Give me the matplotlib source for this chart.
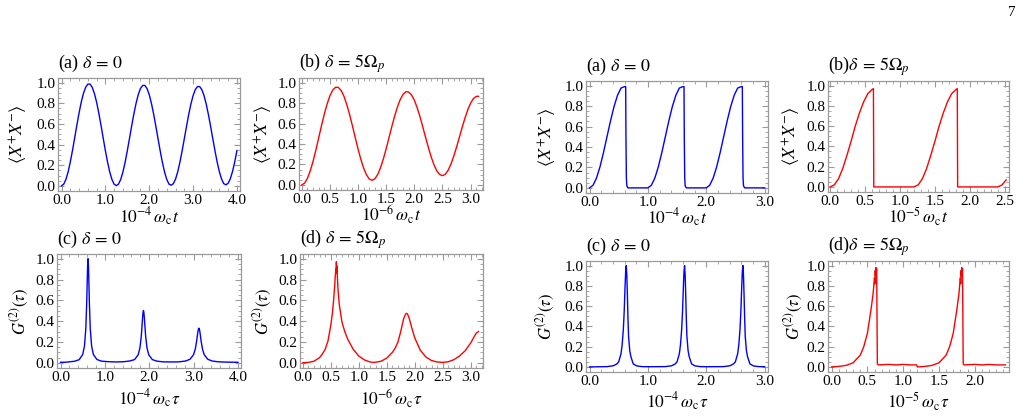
import matplotlib
matplotlib.use('Agg')
import matplotlib.pyplot as plt
from matplotlib.ticker import MultipleLocator, FormatStrFormatter

plt.rcParams['font.family'] = ['Liberation Serif', 'DejaVu Serif']
plt.rcParams['mathtext.fontset'] = 'stix'

# ---------------- data ----------------
# Left group, panel (a): <X+X-> vs 10^-4 w_c t, delta = 0
a_x = [0.00, 0.05, 0.10, 0.15, 0.20, 0.25, 0.30, 0.35, 0.40, 0.45, 0.50, 0.55, 0.60, 0.65, 0.70, 0.75, 0.80, 0.85, 0.90, 0.95,
       1.00, 1.05, 1.10, 1.15, 1.20, 1.25, 1.30, 1.35, 1.40, 1.45, 1.50, 1.55, 1.60, 1.65, 1.70, 1.75, 1.80, 1.85, 1.90, 1.95,
       2.00, 2.05, 2.10, 2.15, 2.20, 2.25, 2.30, 2.35, 2.40, 2.45, 2.50, 2.55, 2.60, 2.65, 2.70, 2.75, 2.80, 2.85, 2.90, 2.95,
       3.00, 3.05, 3.10, 3.15, 3.20, 3.25, 3.30, 3.35, 3.40, 3.45, 3.50, 3.55, 3.60, 3.65, 3.70, 3.75, 3.80, 3.85, 3.90, 3.95, 4.00]
a_y = [0.000, 0.016, 0.061, 0.134, 0.230, 0.342, 0.464, 0.588, 0.706, 0.811, 0.895, 0.955, 0.986, 0.986, 0.955, 0.895, 0.811, 0.706, 0.588, 0.464,
       0.342, 0.230, 0.134, 0.061, 0.016, 0.002, 0.017, 0.062, 0.134, 0.228, 0.339, 0.459, 0.581, 0.697, 0.800, 0.884, 0.943, 0.973, 0.973, 0.943,
       0.884, 0.800, 0.697, 0.581, 0.459, 0.339, 0.228, 0.134, 0.062, 0.017, 0.006, 0.021, 0.065, 0.136, 0.229, 0.338, 0.456, 0.576, 0.690, 0.792,
       0.874, 0.932, 0.962, 0.962, 0.932, 0.874, 0.792, 0.690, 0.576, 0.456, 0.338, 0.229, 0.136, 0.065, 0.021, 0.010, 0.025, 0.069, 0.140, 0.232, 0.342]

# panel (b): <X+X-> vs 10^-6 w_c t, delta = 5 Omega_p
b_x = [0.00, 0.05, 0.10, 0.15, 0.20, 0.25, 0.30, 0.35, 0.40, 0.45, 0.50, 0.55, 0.60, 0.65, 0.70, 0.75, 0.80, 0.85, 0.90, 0.95,
       1.00, 1.05, 1.10, 1.15, 1.20, 1.25, 1.30, 1.35, 1.40, 1.45, 1.50, 1.55, 1.60, 1.65, 1.70, 1.75, 1.80, 1.85, 1.90, 1.95,
       2.00, 2.05, 2.10, 2.15, 2.20, 2.25, 2.30, 2.35, 2.40, 2.45, 2.50, 2.55, 2.60, 2.65, 2.70, 2.75, 2.80, 2.85, 2.90, 2.95,
       3.00, 3.05, 3.10, 3.14]
b_y = [0.000, 0.017, 0.064, 0.137, 0.231, 0.341, 0.460, 0.580, 0.693, 0.792, 0.872, 0.927, 0.955, 0.953, 0.922, 0.865, 0.784, 0.686, 0.576, 0.461,
       0.350, 0.248, 0.162, 0.097, 0.057, 0.045, 0.061, 0.103, 0.170, 0.255, 0.355, 0.463, 0.571, 0.673, 0.763, 0.836, 0.885, 0.911, 0.908, 0.880,
       0.828, 0.755, 0.667, 0.567, 0.464, 0.364, 0.272, 0.195, 0.136, 0.101, 0.090, 0.104, 0.143, 0.202, 0.280, 0.369, 0.466, 0.563, 0.654, 0.735,
       0.799, 0.844, 0.865, 0.866]

# panel (c): G2 vs 10^-4 w_c tau, delta = 0
c_x = [0.00, 0.10, 0.17, 0.32, 0.42, 0.50, 0.54, 0.57, 0.59, 0.60, 0.61, 0.62, 0.63, 0.64, 0.65, 0.67, 0.70, 0.74, 0.82, 0.92,
       1.07, 1.25, 1.42, 1.57, 1.67, 1.75, 1.79, 1.82, 1.84, 1.85, 1.86, 1.87, 1.88, 1.89, 1.90, 1.92, 1.95, 1.99, 2.07, 2.17,
       2.32, 2.50, 2.67, 2.82, 2.92, 3.00, 3.04, 3.07, 3.09, 3.10, 3.11, 3.12, 3.13, 3.14, 3.15, 3.17, 3.20, 3.24, 3.32, 3.42,
       3.57, 3.80, 4.00]
c_y = [0.005, 0.005, 0.008, 0.015, 0.030, 0.080, 0.163, 0.330, 0.578, 0.756, 0.926, 1.000, 0.926, 0.756, 0.578, 0.330, 0.163, 0.080, 0.032, 0.016,
       0.011, 0.008, 0.010, 0.018, 0.031, 0.076, 0.142, 0.252, 0.370, 0.433, 0.483, 0.502, 0.483, 0.433, 0.370, 0.252, 0.142, 0.076, 0.031, 0.016,
       0.009, 0.008, 0.009, 0.017, 0.034, 0.078, 0.134, 0.210, 0.275, 0.304, 0.325, 0.333, 0.325, 0.304, 0.275, 0.210, 0.134, 0.078, 0.034, 0.017,
       0.009, 0.006, 0.005]

# panel (d): G2 vs 10^-6 w_c tau, delta = 5 Omega_p
d_x = [0.00, 0.10, 0.20, 0.30, 0.35, 0.40, 0.45, 0.50, 0.53, 0.55, 0.57, 0.58, 0.59, 0.595, 0.60, 0.605, 0.61, 0.62, 0.63, 0.65,
       0.68, 0.70, 0.75, 0.80, 0.90, 1.00, 1.10, 1.20, 1.25, 1.30, 1.40, 1.50, 1.60, 1.65, 1.70, 1.75, 1.80, 1.83, 1.85, 1.87,
       1.90, 1.95, 2.00, 2.10, 2.20, 2.30, 2.40, 2.50, 2.60, 2.70, 2.80, 2.90, 3.00, 3.05, 3.10, 3.14]
d_y = [0.000, 0.004, 0.015, 0.050, 0.085, 0.130, 0.210, 0.360, 0.480, 0.600, 0.740, 0.830, 0.900, 0.860, 0.970, 0.880, 0.930, 0.800, 0.700, 0.570,
       0.460, 0.390, 0.300, 0.230, 0.130, 0.065, 0.028, 0.008, 0.004, 0.005, 0.015, 0.045, 0.100, 0.140, 0.200, 0.300, 0.420, 0.460, 0.475, 0.470,
       0.430, 0.330, 0.240, 0.120, 0.055, 0.022, 0.008, 0.004, 0.010, 0.030, 0.065, 0.115, 0.190, 0.240, 0.285, 0.300]

# Right group, panel (a): <X+X-> vs 10^-4 w_c t, delta = 0
e_x = [0.00, 0.06, 0.12, 0.18, 0.24, 0.30, 0.36, 0.42, 0.48, 0.54, 0.60, 0.62, 0.625, 0.632, 0.64, 0.66,
       1.00, 1.06, 1.12, 1.18, 1.24, 1.30, 1.36, 1.42, 1.48, 1.54, 1.60, 1.62, 1.625, 1.632, 1.64, 1.66,
       2.00, 2.06, 2.12, 2.18, 2.24, 2.30, 2.36, 2.42, 2.48, 2.54, 2.60, 2.62, 2.625, 2.632, 2.64, 2.66, 3.00]
e_y = [0.000, 0.025, 0.096, 0.206, 0.346, 0.500, 0.655, 0.794, 0.905, 0.976, 0.990, 0.990, 0.500, 0.100, 0.020, 0.000,
       0.000, 0.025, 0.096, 0.206, 0.346, 0.500, 0.655, 0.794, 0.905, 0.976, 0.990, 0.990, 0.500, 0.100, 0.020, 0.000,
       0.000, 0.025, 0.096, 0.206, 0.346, 0.500, 0.655, 0.794, 0.905, 0.976, 0.990, 0.990, 0.500, 0.100, 0.020, 0.000, 0.000]

# Right group, panel (b): <X+X-> vs 10^-5 w_c t, delta = 5 Omega_p
f_x = [0.00, 0.06, 0.12, 0.18, 0.24, 0.30, 0.36, 0.42, 0.48, 0.54, 0.60, 0.62, 0.625, 1.20,
       1.26, 1.32, 1.38, 1.44, 1.50, 1.56, 1.62, 1.68, 1.74, 1.80, 1.82, 1.825, 2.40, 2.46, 2.52]
f_y = [0.000, 0.020, 0.080, 0.180, 0.310, 0.450, 0.600, 0.730, 0.840, 0.920, 0.960, 0.970, 0.000, 0.000,
       0.020, 0.080, 0.180, 0.310, 0.450, 0.600, 0.730, 0.840, 0.920, 0.960, 0.970, 0.000, 0.000, 0.020, 0.070]

# Right group, panel (c): G2 vs 10^-4 w_c tau, delta = 0
g_x = [0.00, 0.30, 0.41, 0.47, 0.50, 0.54, 0.56, 0.58, 0.595, 0.61, 0.62, 0.63, 0.64, 0.65, 0.66, 0.67, 0.69, 0.71, 0.75, 0.81, 0.90,
       1.00, 1.30, 1.41, 1.47, 1.50, 1.54, 1.56, 1.58, 1.595, 1.61, 1.62, 1.63, 1.64, 1.65, 1.66, 1.67, 1.69, 1.71, 1.75, 1.81, 1.90,
       2.00, 2.30, 2.41, 2.47, 2.50, 2.54, 2.56, 2.58, 2.595, 2.61, 2.62, 2.63, 2.64, 2.65, 2.66, 2.67, 2.69, 2.71, 2.75, 2.81, 2.90, 3.00]
g_y = [0.000, 0.003, 0.012, 0.030, 0.050, 0.130, 0.220, 0.370, 0.550, 0.800, 0.940, 1.000, 0.900, 0.700, 0.470, 0.300, 0.160, 0.100, 0.030, 0.010, 0.003,
       0.002, 0.003, 0.012, 0.030, 0.050, 0.130, 0.220, 0.370, 0.550, 0.800, 0.940, 1.000, 0.900, 0.700, 0.470, 0.300, 0.160, 0.100, 0.030, 0.010, 0.003,
       0.002, 0.003, 0.012, 0.030, 0.050, 0.130, 0.220, 0.370, 0.550, 0.800, 0.940, 1.000, 0.900, 0.700, 0.470, 0.300, 0.160, 0.100, 0.030, 0.010, 0.003, 0.002]

# Right group, panel (d): G2 vs 10^-5 w_c tau, delta = 5 Omega_p
h_x = [0.00, 0.10, 0.20, 0.30, 0.40, 0.45, 0.50, 0.55, 0.58, 0.60, 0.605, 0.61, 0.615, 0.62, 0.625, 0.63, 0.635, 0.64, 0.65,
       0.80, 0.90, 1.00, 1.10, 1.19, 1.20, 1.30, 1.40, 1.50, 1.60, 1.65, 1.70, 1.75, 1.78, 1.80, 1.805, 1.81, 1.815, 1.82,
       1.825, 1.83, 1.835, 1.84, 1.85, 2.00, 2.10, 2.20, 2.30, 2.43]
h_y = [0.000, 0.005, 0.015, 0.040, 0.115, 0.200, 0.330, 0.560, 0.720, 0.880, 0.820, 0.950, 0.900, 0.980, 0.930, 0.970, 0.500, 0.030, 0.020,
       0.025, 0.020, 0.025, 0.020, 0.020, 0.000, 0.005, 0.015, 0.040, 0.115, 0.200, 0.330, 0.560, 0.720, 0.880, 0.820, 0.950, 0.900, 0.980,
       0.930, 0.970, 0.500, 0.030, 0.020, 0.025, 0.020, 0.025, 0.020, 0.020]

y_ticks = [0.0, 0.2, 0.4, 0.6, 0.8, 1.0]

# ---------------- layout ----------------
W, H = 1027, 417
fig = plt.figure(figsize=(W / 100, H / 100), dpi=100)

def add_px_axes(l, r, t, b):
    return fig.add_axes([l / W, (H - b) / H, (r - l) / W, (b - t) / H])

FRAME = '#9a9a9a'
BLUE = '#0000ff'
RED = '#ff0000'

YL_X = r'$\left\langle X^{+}X^{-}\right\rangle$'
YL_G = r'$G^{(2)}(\tau)$'
T_0 = r'$\delta\,=\,0$'
T_5 = r'$\delta\,=\,5\Omega_{p}$'

panels = [
    # rect(l, r, t, b), x, y, color, xlim, major, minor, title, xlabel, ylabel, ylabel_x
    ((58, 240, 78, 191), a_x, a_y, BLUE, (-0.08, 4.07), 1.0, 0.2, '(a) ' + T_0, r'$10^{-4}\,\omega_{\rm c}t$', YL_X, -0.215),
    ((299, 483, 78, 190), b_x, b_y, RED, (-0.05, 3.22), 0.5, 0.1, '(b) ' + T_5, r'$10^{-6}\,\omega_{\rm c}t$', YL_X, -0.19),
    ((57, 241, 254, 368), c_x, c_y, BLUE, (-0.08, 4.07), 1.0, 0.2, '(c) ' + T_0, r'$10^{-4}\,\omega_{\rm c}\tau$', YL_G, -0.20),
    ((300, 483, 254, 368), d_x, d_y, RED, (-0.05, 3.22), 0.5, 0.1, '(d) ' + T_5, r'$10^{-6}\,\omega_{\rm c}\tau$', YL_G, -0.20),
    ((586, 768, 81, 193), e_x, e_y, BLUE, (-0.06, 3.06), 1.0, 0.2, '(a) ' + T_0, r'$10^{-4}\,\omega_{\rm c}t$', YL_X, -0.21),
    ((828, 1009, 81, 192), f_x, f_y, RED, (-0.03, 2.56), 0.5, 0.1, '(b)' + T_5, r'$10^{-5}\,\omega_{\rm c}t$', YL_X, -0.20),
    ((586, 768, 261, 372), g_x, g_y, BLUE, (-0.06, 3.06), 1.0, 0.2, '(c) ' + T_0, r'$10^{-4}\,\omega_{\rm c}\tau$', YL_G, -0.22),
    ((828, 1009, 261, 372), h_x, h_y, RED, (-0.05, 2.48), 0.5, 0.1, '(d)' + T_5, r'$10^{-5}\,\omega_{\rm c}\tau$', YL_G, -0.19),
]

for (l, r, t, b), xs, ys, col, xlim, xmaj, xmin_, title, xlab, ylab, ylx in panels:
    ax = add_px_axes(l, r, t, b)
    ax.plot(xs, ys, color=col, lw=1.0)
    ax.set_xlim(*xlim)
    ax.set_ylim(-0.05, 1.045)
    ax.xaxis.set_major_locator(MultipleLocator(xmaj))
    ax.xaxis.set_minor_locator(MultipleLocator(xmin_))
    ax.set_yticks(y_ticks)
    ax.yaxis.set_minor_locator(MultipleLocator(0.05))
    ax.xaxis.set_major_formatter(FormatStrFormatter('%.1f'))
    ax.yaxis.set_major_formatter(FormatStrFormatter('%.1f'))
    ax.tick_params(which='both', direction='in', top=True, right=True,
                   color=FRAME, labelsize=11, pad=2)
    ax.tick_params(which='major', length=4, width=0.8)
    ax.tick_params(which='minor', length=2, width=0.6)
    for s in ax.spines.values():
        s.set_color(FRAME)
        s.set_linewidth(0.9)
    ax.set_ylabel(ylab, fontsize=13 if ylab == YL_X else 12, va='center')
    ax.yaxis.set_label_coords(ylx, 0.5)
    ax.set_xlabel(xlab, fontsize=12.5, va='center')
    top_row = t < 200
    ax.xaxis.set_label_coords(0.5, -0.225 if top_row else -0.27)
    ax.text(0.0, 1.13, title, transform=ax.transAxes, ha='left', va='center', fontsize=13)

fig.text(1012 / W, 1 - 12 / H, '7', ha='center', va='center', fontsize=11)

fig.savefig('out.png', dpi=100)
